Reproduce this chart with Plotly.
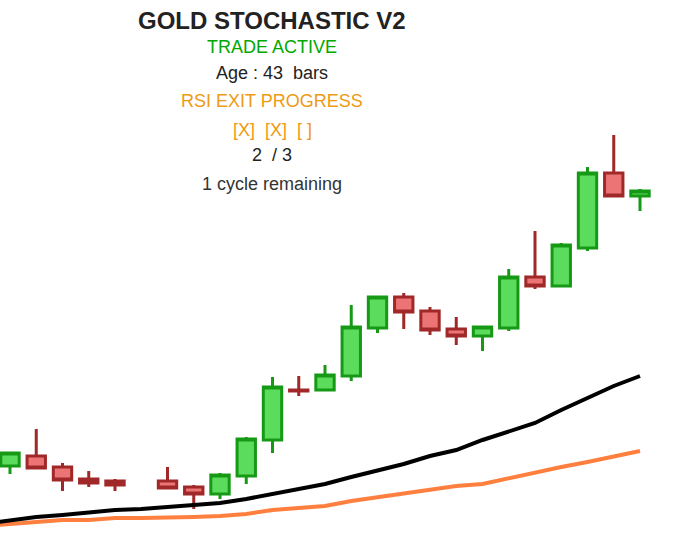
import plotly.graph_objects as go

# Candle slots (index 5 is an empty slot in the reference)
idx = list(range(25))
opens  = [2069, 2079, 2068, 2056, 2054, None, 2054, 2048, 2041, 2059, 2095, 2145, 2145, 2159, 2207, 2238, 2224, 2206, 2199, 2207, 2258, 2249, 2287, 2362, 2339]
highs  = [2082, 2106, 2072, 2064, 2056, None, 2068, 2050, 2062, 2098, 2158, 2159, 2170, 2230, 2238, 2242, 2228, 2218, 2208, 2266, 2304, 2292, 2368, 2400, 2346]
lows   = [2061, 2067, 2044, 2048, 2044, None, 2047, 2026, 2036, 2051, 2082, 2139, 2145, 2154, 2202, 2206, 2200, 2190, 2184, 2204, 2246, 2249, 2284, 2339, 2324]
closes = [2082, 2067, 2055, 2052, 2050, None, 2047, 2041, 2060, 2096, 2148, 2144, 2160, 2208, 2238, 2223, 2205, 2199, 2208, 2258, 2249, 2290, 2362, 2339, 2344]

# Moving averages (start one bar before the first visible candle)
ma_idx = list(range(-1, 25))
ma_fast = [2011, 2015, 2018, 2020, 2023, 2025, 2026, 2028, 2030, 2032, 2036, 2041, 2046, 2051, 2058, 2064, 2071, 2079, 2085, 2095, 2104, 2112, 2125, 2137, 2149, 2159]
ma_slow = [2009, 2011, 2013, 2015, 2015, 2017, 2017, 2017, 2018, 2019, 2021, 2025, 2027, 2029, 2034, 2038, 2042, 2046, 2049, 2051, 2057, 2062, 2068, 2073, 2078, 2084]

header_lines = [
    ("<b>GOLD STOCHASTIC V2</b>", "#222222", 24, 20),
    ("TRADE ACTIVE", "#00A800", 18, 47),
    ("Age : 43\u00a0\u00a0bars", "#222222", 18, 73),
    ("RSI EXIT PROGRESS", "#EE9A14", 18, 101),
    ("[X]\u00a0\u00a0[X]\u00a0\u00a0[ ]", "#EE9A14", 18, 130),
    ("2\u00a0\u00a0/ 3", "#222222", 18, 155),
    ("1 cycle remaining", "#333333", 18, 184),
]

W, H = 682, 535

fig = go.Figure()
fig.add_trace(go.Scatter(x=ma_idx, y=ma_slow, mode="lines",
                         line=dict(color="#FF7F3F", width=4), hoverinfo="skip"))
fig.add_trace(go.Scatter(x=ma_idx, y=ma_fast, mode="lines",
                         line=dict(color="#000000", width=4), hoverinfo="skip"))
fig.add_trace(go.Candlestick(
    x=idx, open=opens, high=highs, low=lows, close=closes,
    increasing=dict(line=dict(color="#169A16", width=3), fillcolor="#5CDC5C"),
    decreasing=dict(line=dict(color="#A02828", width=3), fillcolor="#EC7474"),
    whiskerwidth=0,
))

for text, color, size, ypx in header_lines:
    fig.add_annotation(text=text, xref="paper", yref="paper",
                       x=272 / W, y=1 - ypx / H,
                       xanchor="center", yanchor="middle", showarrow=False,
                       font=dict(family="Liberation Sans, Arial", size=size, color=color))

px_per = 26.25
x0 = 10
fig.update_layout(
    width=W, height=H,
    margin=dict(l=0, r=0, t=0, b=0),
    paper_bgcolor="white", plot_bgcolor="white",
    showlegend=False,
    boxgap=0.3, boxgroupgap=0,
    xaxis=dict(range=[-x0 / px_per, (W - x0) / px_per], visible=False,
               rangeslider=dict(visible=False), fixedrange=True),
    yaxis=dict(range=[2000, 2535], visible=False, fixedrange=True),
)

fig.write_html("out.html", config={"displayModeBar": False},
               post_script="document.body.style.margin='0';document.body.style.overflow='hidden';")
